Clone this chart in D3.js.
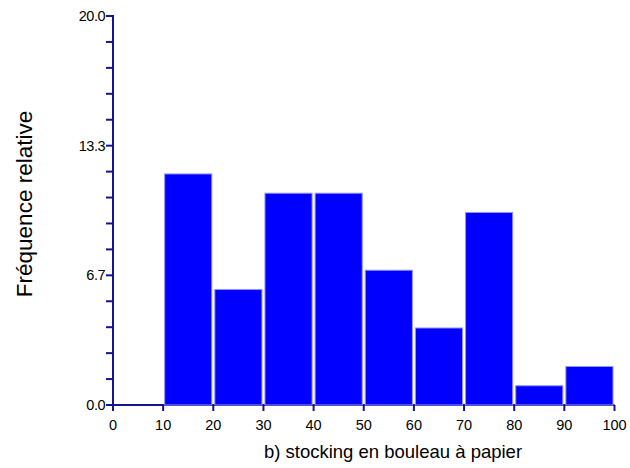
<!DOCTYPE html>
<html><head><meta charset="utf-8">
<script src="https://cdn.jsdelivr.net/npm/d3@7"></script>
<style>body{margin:0;background:#fff}svg{display:block}text{font-family:"Liberation Sans",Arial,sans-serif}</style>
</head><body>
<svg id="c" width="630" height="468"></svg>
<script>
const binStarts = [0,10,20,30,40,50,60,70,80,90];
const binWidth = 10;
const freq = [0, 11.88, 5.94, 10.89, 10.89, 6.93, 3.96, 9.90, 0.99, 1.98];
const yTickLabels = [0, 6.67, 13.33, 20];
const xTicks = [0,10,20,30,40,50,60,70,80,90,100];

const svg = d3.select("#c");
const axisCol = "#14148c";
const x = d3.scaleLinear().domain([0,100]).range([113,614.5]);
const y = d3.scaleLinear().domain([0,20]).range([405,16]);

// x axis baseline
svg.append("line").attr("x1",x(0)).attr("x2",x(100)).attr("y1",y(0)).attr("y2",y(0))
  .attr("stroke",axisCol).attr("stroke-width",2);

// bars
svg.selectAll("rect.bar").data(binStarts.map((s,i)=>({s,v:freq[i]})).filter(d=>d.v>0))
  .enter().append("rect").attr("class","bar")
  .attr("x",d=>x(d.s)+1.5).attr("width",d=>x(d.s+binWidth)-x(d.s)-3)
  .attr("y",d=>y(d.v)).attr("height",d=>y(0)-y(d.v))
  .attr("fill","#0000ff").attr("stroke","#9494ff").attr("stroke-width",1);

// y axis
const minorTicks = d3.range(0,16).map(i=>i*20/15);
svg.append("line").attr("x1",x(0)).attr("x2",x(0)).attr("y1",y(20)-1).attr("y2",y(0)+1)
  .attr("stroke",axisCol).attr("stroke-width",2);
svg.selectAll("line.ytick").data(minorTicks).enter().append("line")
  .attr("x1",x(0)-7).attr("x2",x(0)).attr("y1",d=>y(d)).attr("y2",d=>y(d))
  .attr("stroke",axisCol).attr("stroke-width",2);
svg.selectAll("text.ylab").data(yTickLabels).enter().append("text")
  .attr("x",x(0)-8).attr("y",d=>y(d)+5).attr("text-anchor","end")
  .attr("font-size",14.5).attr("fill","#000").attr("letter-spacing","-0.5")
  .text(d=>d3.format(".1f")(d));

// x ticks
svg.selectAll("line.xtick").data(xTicks).enter().append("line")
  .attr("x1",d=>x(d)).attr("x2",d=>x(d)).attr("y1",y(0)).attr("y2",y(0)+6)
  .attr("stroke",axisCol).attr("stroke-width",2);
svg.selectAll("text.xlab").data(xTicks).enter().append("text")
  .attr("x",d=>x(d)).attr("y",y(0)+25).attr("text-anchor","middle")
  .attr("font-size",14.5).attr("fill","#000").text(d=>d);

// titles
svg.append("text").attr("x",393).attr("y",458).attr("text-anchor","middle")
  .attr("font-size",18.5).attr("fill","#000").text("b) stocking en bouleau à papier");
svg.append("text").attr("transform","translate(32,204) rotate(-90)").attr("text-anchor","middle")
  .attr("font-size",22.5).attr("fill","#000").text("Fréquence relative");
</script>
</body></html>
